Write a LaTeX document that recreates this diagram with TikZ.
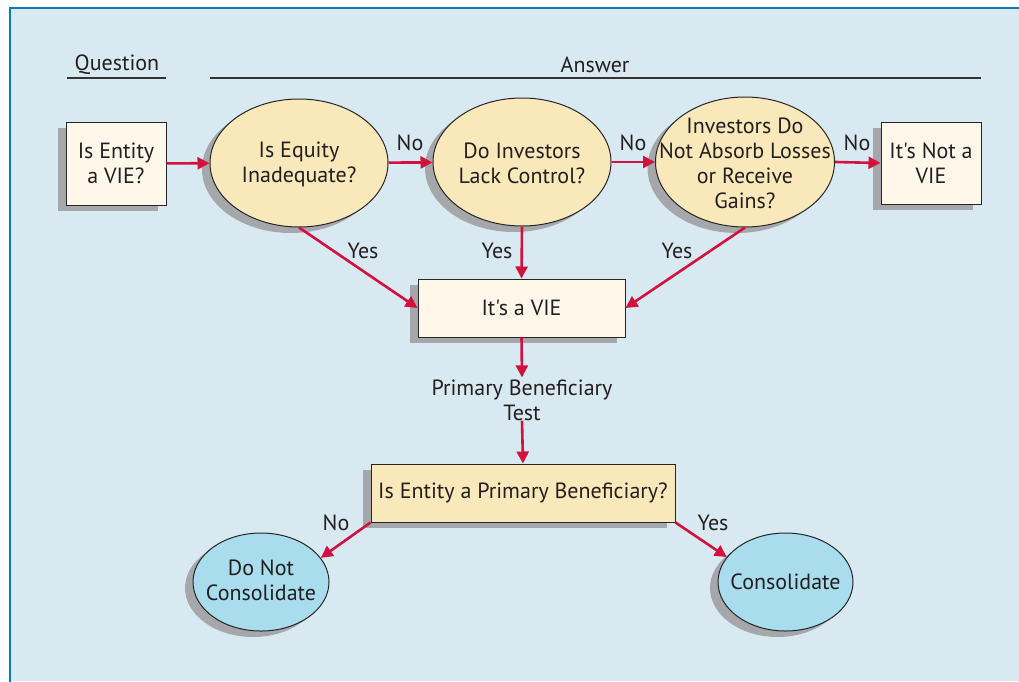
\documentclass[tikz,border=0pt]{standalone}
\usepackage{fontspec}
\setmainfont{PT Sans}[Ligatures=TeXOff]
\usetikzlibrary{shapes.geometric,arrows.meta,shadows}
\definecolor{bgblue}{HTML}{D9E9F2}
\definecolor{frameblue}{HTML}{0A7DB8}
\definecolor{creamfill}{HTML}{FEF7EA}
\definecolor{yellowfill}{HTML}{F9E8B9}
\definecolor{bluefill}{HTML}{A9DCEC}
\definecolor{shadowgray}{HTML}{A6A7AB}
\definecolor{arrowred}{HTML}{D4103F}
\definecolor{textgray}{HTML}{231F20}
\begin{document}
\begin{tikzpicture}[x=1pt,y=-1pt,
  every node/.style={font=\fontsize{22}{25}\selectfont, text=textgray},
  shad/.style={drop shadow={shadow xshift=-8pt,shadow yshift=-6pt,opacity=1,fill=shadowgray}},
  boxnode/.style={draw=black!85, line width=1pt, rectangle, align=center, inner sep=0pt, shad},
  ellnode/.style={draw=black!85, line width=1pt, ellipse, inner sep=0pt, fill=yellowfill, shad},
  txt/.style={align=center, inner sep=0pt},
  conn/.style={draw=arrowred, line width=2.6pt, -{Triangle[length=12pt,width=12pt]}},
  lbl/.style={inner sep=0pt},
  headline/.style={draw=black!80, line width=1.4pt}
]
\useasboundingbox (0,0) rectangle (1019,681);
\fill[white] (0,0) rectangle (1019,681);
\fill[bgblue] (10,8) rectangle (1019,681);
\draw[frameblue, line width=2.2pt] (10,690) -- (10,8) -- (1030,8);

% headings
\node[lbl] (hq) at (117,65) {Question};
\node[lbl] (ha) at (595,65) {Answer};
\coordinate (q1) at (67,78); \coordinate (q2) at (166,78);
\coordinate (a1) at (210,78); \coordinate (a2) at (981,78);
\draw[headline] (q1) -- (q2);
\draw[headline] (a1) -- (a2);

% nodes
\node[boxnode, fill=creamfill, minimum width=100pt, minimum height=83pt] (q) at (116,163.5) {Is Entity\\a VIE?};
\node[ellnode, minimum width=178pt, minimum height=128pt] (e1) at (299,163) {};
\node[txt] (e1t) at ([yshift=-1.5pt]e1) {Is Equity\\Inadequate?};
\node[ellnode, minimum width=178pt, minimum height=128pt] (e2) at (522,162) {};
\node[txt] (e2t) at ([yshift=-1.5pt]e2) {Do Investors\\Lack Control?};
\node[ellnode, minimum width=179pt, minimum height=130pt] (e3) at (745,162) {};
\node[txt] (e3t) at ([yshift=-1pt]e3) {Investors Do\\Not Absorb Losses\\or Receive\\Gains?};
\node[boxnode, fill=creamfill, minimum width=100pt, minimum height=82pt] (nv) at (931,163) {It's Not a\\VIE};
\node[boxnode, fill=creamfill, minimum width=207pt, minimum height=58pt] (vie) at (521.5,308) {It's a VIE};
\node[txt] (pbt) at (522,400) {Primary Beneficiary\\Test};
\node[boxnode, fill=yellowfill, minimum width=304pt, minimum height=58pt] (pb) at (523,493) {Is Entity a Primary Beneficiary?};
\node[ellnode, fill=bluefill, minimum width=136pt, minimum height=98pt] (dnc) at (261,582) {};
\node[txt] (dnct) at ([yshift=2pt]dnc) {Do Not\\Consolidate};
\node[ellnode, fill=bluefill, minimum width=135pt, minimum height=98pt] (cons) at (785.5,582) {};
\node[txt] (const) at (cons) {Consolidate};

% connectors
\draw[conn] (q) -- (e1);
\draw[conn] (e1) -- (e2);
\draw[conn] (e2) -- (e3);
\draw[conn] (e3.east) -- (nv.west);
\draw[conn] (e1.south) -- (vie.west);
\draw[conn] (e2.south) -- (vie.north);
\draw[conn] (e3.south) -- (vie.east);
\draw[conn] (vie.south) -- ([yshift=2pt]pbt.north);
\draw[conn] (pbt.south) -- (pb.north);
\draw[conn] (pb.south west) -- (dnc.22);
\draw[conn] (pb.south east) -- (cons.157);

% labels
\node[lbl] (n1) at (410,143) {No};
\node[lbl] (n2) at (633,143) {No};
\node[lbl] (n3) at (857,143) {No};
\node[lbl] (y1) at (363,251) {Yes};
\node[lbl] (y2) at (497,251) {Yes};
\node[lbl] (y3) at (677,251) {Yes};
\node[lbl] (n4) at (336,523) {No};
\node[lbl] (y4) at (713,523) {Yes};
\end{tikzpicture}
\end{document}
